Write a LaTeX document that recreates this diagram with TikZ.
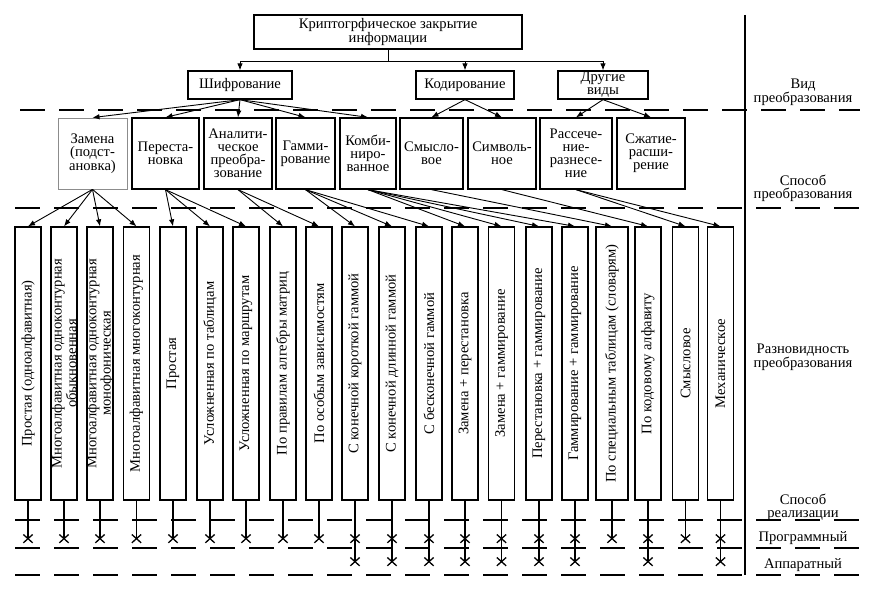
\documentclass[tikz,border=0pt]{standalone}
\usepackage{fontspec}
\setmainfont{Liberation Serif}
\usetikzlibrary{arrows.meta,shapes.misc}
\begin{document}
\begin{tikzpicture}[x=1pt,y=-1pt,
  every node/.style={font=\fontsize{14.6pt}{13pt}\selectfont, inner sep=0pt},
  box/.style={draw, line width=1.3pt, align=center},
  vbox/.style={draw, line width=1.3pt, minimum width=26pt, minimum height=273pt},
  vtxt/.style={rotate=90, align=center},
  arr/.style={line width=0.9pt, -{Latex[length=7pt,width=5.5pt]}},
  dl/.style={line width=1.2pt, dash pattern=on 25pt off 14pt},
  stem/.style={line width=1.2pt},
  xm/.style={cross out, draw, line width=1.3pt, minimum width=8pt, minimum height=7pt},
  lbl/.style={align=center}
]
\useasboundingbox (0,0) rectangle (884,599);

% level 1
\node[box, minimum width=268pt, minimum height=34pt] (top) at (388,32) {Криптогрфическое закрытие\\информации};
\node[box, minimum width=104pt, minimum height=28pt] (shifr) at (240,85) {Шифрование};
\node[box, minimum width=98pt, minimum height=28pt] (kod) at (465,85) {Кодирование};
\node[box, minimum width=90pt, minimum height=28pt] (dr) at (603,85) {Другие\\виды};
\coordinate (j) at (388,61);
\draw[line width=0.9pt] (top.south) -- (j);
\draw[arr] (j) -| (shifr.north);
\draw[arr] (j) -| (kod.north);
\draw[arr] (j) -| (dr.north);

% level 2
\node[box, draw=black!45, line width=0.8pt, minimum width=69pt, minimum height=71pt] (zam) at (92.5,153.5) {Замена\\(подст-\\ановка)};
\node[box, minimum width=67pt, minimum height=71pt] (per) at (165.5,153.5) {Переста-\\новка};
\node[box, minimum width=68pt, minimum height=71pt] (an) at (238,153.5) {Аналити-\\ческое\\преобра-\\зование};
\node[box, minimum width=59pt, minimum height=71pt] (gam) at (305.5,153.5) {Гамми-\\рование};
\node[box, minimum width=56pt, minimum height=71pt] (komb) at (368,153.5) {Комби-\\ниро-\\ванное};
\node[box, minimum width=63pt, minimum height=71pt] (smysl) at (431.5,153.5) {Смысло-\\вое};
\node[box, minimum width=68pt, minimum height=71pt] (simv) at (502,153.5) {Символь-\\ное};
\node[box, minimum width=72pt, minimum height=71pt] (rass) at (576,153.5) {Рассече-\\ние-\\разнесе-\\ние};
\node[box, minimum width=68pt, minimum height=71pt] (szh) at (651,153.5) {Сжатие-\\расши-\\рение};

\foreach \t in {zam,per,an,gam,komb} \draw[arr] (shifr.south) -- (\t.north);
\foreach \t in {smysl,simv} \draw[arr] (kod.south) -- (\t.north);
\foreach \t in {rass,szh} \draw[arr] (dr.south) -- (\t.north);

% level 3
\node[vbox] (b1) at (28,363.5) {};
\node[vtxt] at (b1.center) {Простая (одноалфавитная)};
\node[vbox] (b2) at (64,363.5) {};
\node[vtxt] at (b2.center) {Многоалфавитная одноконтурная\\обыкновенная};
\node[vbox] (b3) at (100,363.5) {};
\node[vtxt] at (b3.center) {Многоалфавитная одноконтурная\\монофоническая};
\node[vbox] (b4) at (136.5,363.5) {};
\node[vtxt] at (b4.center) {Многоалфавитная многоконтурная};
\node[vbox] (b5) at (173,363.5) {};
\node[vtxt] at (b5.center) {Простая};
\node[vbox] (b6) at (210,363.5) {};
\node[vtxt] at (b6.center) {Усложненная по таблицам};
\node[vbox] (b7) at (246,363.5) {};
\node[vtxt] at (b7.center) {Усложненная по маршрутам};
\node[vbox] (b8) at (283,363.5) {};
\node[vtxt] at (b8.center) {По правилам алгебры матриц};
\node[vbox] (b9) at (319,363.5) {};
\node[vtxt] at (b9.center) {По особым зависимостям};
\node[vbox] (b10) at (355,363.5) {};
\node[vtxt] at (b10.center) {С конечной короткой гаммой};
\node[vbox] (b11) at (392,363.5) {};
\node[vtxt] at (b11.center) {С конечной длинной гаммой};
\node[vbox] (b12) at (429,363.5) {};
\node[vtxt] at (b12.center) {С бесконечной гаммой};
\node[vbox] (b13) at (465,363.5) {};
\node[vtxt] at (b13.center) {Замена + перестановка};
\node[vbox] (b14) at (501.5,363.5) {};
\node[vtxt] at (b14.center) {Замена + гаммирование};
\node[vbox] (b15) at (539,363.5) {};
\node[vtxt] at (b15.center) {Перестановка + гаммирование};
\node[vbox] (b16) at (575,363.5) {};
\node[vtxt] at (b16.center) {Гаммирование + гаммирование};
\node[vbox, minimum width=32pt] (b17) at (612,363.5) {};
\node[vtxt] at (b17.center) {По специальным таблицам (словарям)};
\node[vbox] (b18) at (648,363.5) {};
\node[vtxt] at (b18.center) {По кодовому алфавиту};
\node[vbox] (b19) at (685.5,363.5) {};
\node[vtxt] at (b19.center) {Смысловое};
\node[vbox] (b20) at (720.5,363.5) {};
\node[vtxt] at (b20.center) {Механическое};

\foreach \i in {1,2,3,4} \draw[arr] (zam.south) -- (b\i.north);
\foreach \i in {5,6,7} \draw[arr] (per.south) -- (b\i.north);
\foreach \i in {8,9} \draw[arr] (an.south) -- (b\i.north);
\foreach \i in {10,11,12} \draw[arr] (gam.south) -- (b\i.north);
\foreach \i in {13,14,15,16} \draw[arr] (komb.south) -- (b\i.north);
\draw[arr] (smysl.south) -- (b17.north);
\draw[arr] (simv.south) -- (b18.north);
\foreach \i in {19,20} \draw[arr] (rass.south) -- (b\i.north);

% realisation stems and crosses
\foreach \i in {1,...,20}{
  \path (b\i.south) ++(0,38) coordinate (p\i);
  \draw[stem] (b\i.south) -- (p\i);
  \node[xm] at (p\i) {};
}
\foreach \i in {10,11,12,13,14,15,16,18,20}{
  \path (b\i.south) ++(0,61) coordinate (h\i);
  \draw[stem] (p\i) -- (h\i);
  \node[xm] at (h\i) {};
}

% dashed separators
\draw[dl] (20,110) -- (860,110);
\draw[dl] (15,208) -- (860,208);
\draw[dl] (15,520) -- (860,520);
\draw[dl] (15,548) -- (860,548);
\draw[dl] (15,575) -- (860,575);

% vertical divider
\coordinate (vt) at (745,15);
\coordinate (vb) at (745,575);
\draw[line width=1.3pt] (vt) -- (vb);

% right labels
\node[lbl] (l1) at (803,92) {Вид\\преобразования};
\node[lbl] (l2) at (803,188) {Способ\\преобразования};
\node[lbl] (l3) at (803,357) {Разновидность\\преобразования};
\node[lbl] (l4) at (803,507) {Способ\\реализации};
\node[lbl] (l5) at (803,538) {Программный};
\node[lbl] (l6) at (803,565) {Аппаратный};
\end{tikzpicture}
\end{document}
